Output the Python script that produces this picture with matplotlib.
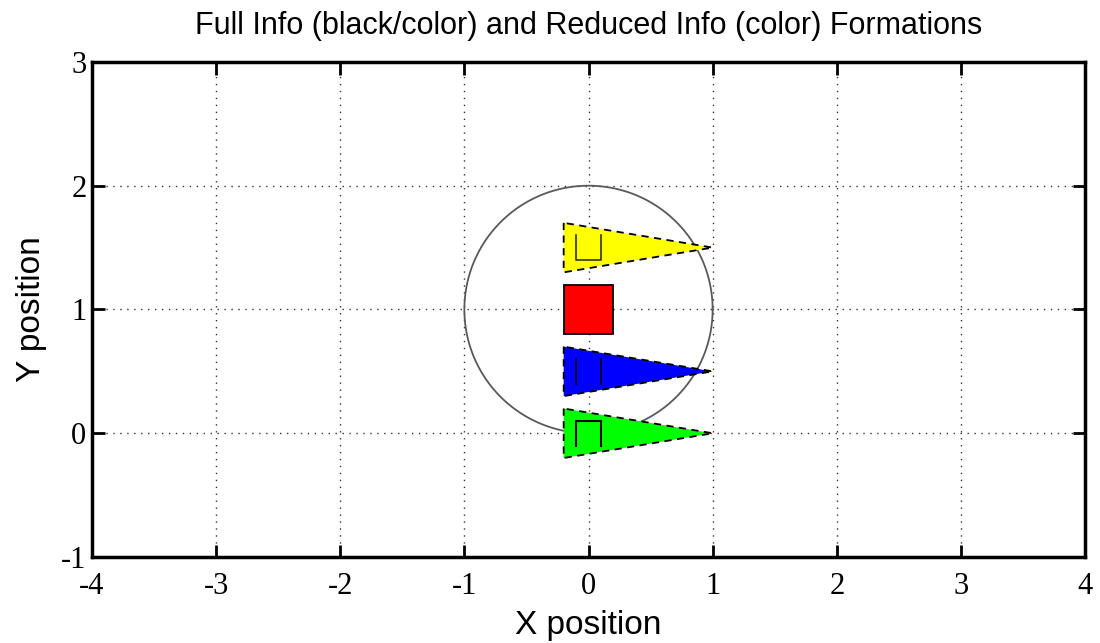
import numpy as np
import matplotlib.pyplot as plt
from matplotlib.patches import Polygon

# formation data
tri_x = [-0.2, -0.2, 1.0]
yellow_y = [1.7, 1.3, 1.5]
blue_y = [0.7, 0.3, 0.5]
green_y = [0.2, -0.2, 0.0]

leader_x = [-0.2, 0.2, 0.2, -0.2]
leader_y = [0.8, 0.8, 1.2, 1.2]

circle_center = (0.0, 1.0)
circle_radius = 1.0

# black (full info) square outlines, partly hidden
yellow_sq_x = [-0.1, -0.1, 0.1, 0.1]
yellow_sq_y = [1.6, 1.4, 1.4, 1.6]
green_sq_x = [-0.1, -0.1, 0.1, 0.1]
green_sq_y = [-0.1, 0.1, 0.1, -0.1]
blue_sq_x = [-0.1, 0.1]
blue_sq_y0 = 0.4
blue_sq_y1 = 0.6

xticks = [-4, -3, -2, -1, 0, 1, 2, 3, 4]
yticks = [-1, 0, 1, 2, 3]

fig = plt.figure(figsize=(11, 6.43), dpi=100)
ax = fig.add_axes([0.0836, 0.1337, 0.9028, 0.77])

th = np.linspace(0, 2 * np.pi, 200)
ax.plot(circle_center[0] + circle_radius * np.cos(th),
        circle_center[1] + circle_radius * np.sin(th),
        color='0.35', lw=1.3, zorder=2)

for ys, c in [(yellow_y, 'yellow'), (blue_y, 'blue'), (green_y, 'lime')]:
    ax.add_patch(Polygon(list(zip(tri_x, ys)), closed=True, facecolor=c,
                         edgecolor='none', zorder=3))
    ax.add_patch(Polygon(list(zip(tri_x, ys)), closed=True, fill=False,
                         edgecolor='black', ls=(0, (4, 3)), lw=1.3, zorder=4))

ax.add_patch(Polygon(list(zip(leader_x, leader_y)), closed=True,
                     facecolor='red', edgecolor='black', lw=1.3, zorder=3))

ax.plot(yellow_sq_x, yellow_sq_y, color='#333300', lw=1.2, zorder=5)
ax.plot(green_sq_x, green_sq_y, color='black', lw=1.5, zorder=5)
for bx in blue_sq_x:
    ax.plot([bx, bx], [blue_sq_y0, blue_sq_y1], color='black', lw=1.2, zorder=5)

ax.set_xlim(-4, 4)
ax.set_ylim(-1, 3)
ax.set_xticks(xticks)
ax.set_yticks(yticks)
ax.set_xticklabels([str(v) for v in xticks], family='Liberation Serif', fontsize=22)
ax.set_yticklabels([str(v) for v in yticks], family='Liberation Serif', fontsize=22)
ax.grid(True, color='0.2', ls=(0, (1, 4)), lw=1.0)
ax.set_axisbelow(True)
ax.tick_params(direction='in', length=9, width=2, top=True, right=True)
ax.tick_params(axis='x', pad=11)
ax.tick_params(axis='y', pad=4)
for s in ax.spines.values():
    s.set_linewidth(2.5)

ax.set_title('Full Info (black/color) and Reduced Info (color) Formations',
             family='Liberation Sans', fontsize=22, pad=20)
ax.set_xlabel('X position', family='Liberation Sans', fontsize=24, labelpad=6)
ax.set_ylabel('Y position', family='Liberation Sans', fontsize=24, labelpad=10)

fig.savefig('out.png', dpi=100)
